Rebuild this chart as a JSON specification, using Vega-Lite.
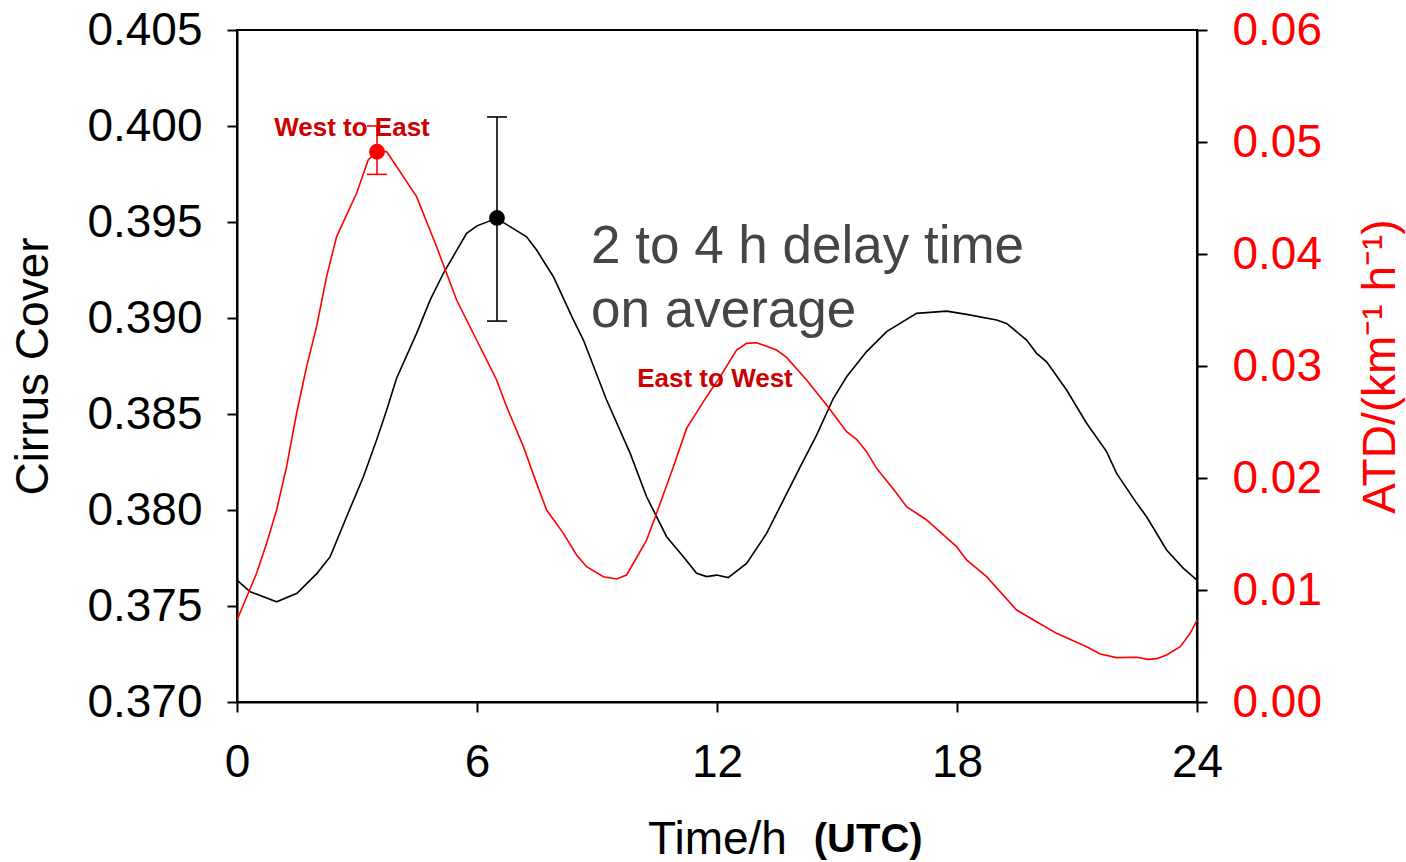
{
  "$schema": "https://vega.github.io/schema/vega-lite/v6.json",
  "width": 960,
  "height": 672,
  "autosize": {"type": "none"},
  "padding": {"left": 237, "top": 30, "right": 209, "bottom": 160},
  "background": "white",
  "config": {
    "font": "Liberation Sans",
    "view": {"stroke": "black", "strokeWidth": 2},
    "axis": {
      "grid": false,
      "domainColor": "black",
      "domainWidth": 2,
      "tickColor": "black",
      "tickWidth": 2,
      "tickSize": 10,
      "labelFont": "Liberation Sans",
      "labelFontSize": 46,
      "labelColor": "black",
      "labelFlush": false,
      "labelOverlap": false,
      "titleFont": "Liberation Sans",
      "titleFontSize": 46,
      "titleFontWeight": "normal",
      "titleColor": "black"
    }
  },
  "datasets": {
    "cover": [
      {"t": 0, "v": 0.37635}, {"t": 0.33, "v": 0.37574}, {"t": 0.99, "v": 0.37522}, {"t": 1.5, "v": 0.37566},
      {"t": 2.0, "v": 0.3767}, {"t": 2.33, "v": 0.37757}, {"t": 2.74, "v": 0.37965}, {"t": 3.16, "v": 0.38173},
      {"t": 3.49, "v": 0.38365}, {"t": 3.74, "v": 0.3852}, {"t": 3.99, "v": 0.38686}, {"t": 4.49, "v": 0.3892},
      {"t": 4.83, "v": 0.39094}, {"t": 5.16, "v": 0.39233}, {"t": 5.74, "v": 0.39441}, {"t": 6.0, "v": 0.3948},
      {"t": 6.49, "v": 0.39519}, {"t": 7.24, "v": 0.39423}, {"t": 7.49, "v": 0.39354}, {"t": 7.91, "v": 0.39215},
      {"t": 8.41, "v": 0.3899}, {"t": 8.66, "v": 0.38885}, {"t": 9.24, "v": 0.38573}, {"t": 9.83, "v": 0.38295},
      {"t": 10.24, "v": 0.38069}, {"t": 10.74, "v": 0.37861}, {"t": 11.16, "v": 0.37757}, {"t": 11.49, "v": 0.3767},
      {"t": 11.74, "v": 0.37653}, {"t": 11.99, "v": 0.37661}, {"t": 12.28, "v": 0.37648}, {"t": 12.74, "v": 0.37722},
      {"t": 13.24, "v": 0.37878}, {"t": 13.66, "v": 0.38052}, {"t": 14.08, "v": 0.38225}, {"t": 14.49, "v": 0.3839},
      {"t": 14.91, "v": 0.38582}, {"t": 15.24, "v": 0.38694}, {"t": 15.74, "v": 0.38825}, {"t": 16.24, "v": 0.38929},
      {"t": 16.99, "v": 0.39024}, {"t": 17.74, "v": 0.39036}, {"t": 18.24, "v": 0.39019}, {"t": 18.99, "v": 0.3899},
      {"t": 19.24, "v": 0.38972}, {"t": 19.74, "v": 0.38885}, {"t": 19.99, "v": 0.38816}, {"t": 20.24, "v": 0.38772},
      {"t": 20.74, "v": 0.38625}, {"t": 21.24, "v": 0.38452}, {"t": 21.74, "v": 0.38304}, {"t": 21.99, "v": 0.38191},
      {"t": 22.49, "v": 0.38036}, {"t": 22.74, "v": 0.37965}, {"t": 23.24, "v": 0.37792}, {"t": 23.66, "v": 0.37696},
      {"t": 24.0, "v": 0.37635}
    ],
    "atd": [
      {"t": 0, "v": 0.00732}, {"t": 0.49, "v": 0.01149}, {"t": 0.74, "v": 0.01417}, {"t": 0.99, "v": 0.01714},
      {"t": 1.24, "v": 0.02101}, {"t": 1.49, "v": 0.02578}, {"t": 1.74, "v": 0.02994}, {"t": 1.99, "v": 0.03351},
      {"t": 2.24, "v": 0.03798}, {"t": 2.49, "v": 0.04155}, {"t": 2.99, "v": 0.04542}, {"t": 3.28, "v": 0.04839},
      {"t": 3.49, "v": 0.04914}, {"t": 3.74, "v": 0.04914}, {"t": 4.49, "v": 0.04512}, {"t": 4.99, "v": 0.04065},
      {"t": 5.49, "v": 0.03589}, {"t": 5.99, "v": 0.03232}, {"t": 6.24, "v": 0.03054}, {"t": 6.49, "v": 0.02875},
      {"t": 6.74, "v": 0.02637}, {"t": 7.16, "v": 0.0228}, {"t": 7.49, "v": 0.01952}, {"t": 7.74, "v": 0.01714},
      {"t": 8.16, "v": 0.01506}, {"t": 8.49, "v": 0.01313}, {"t": 8.74, "v": 0.01208}, {"t": 9.16, "v": 0.01119},
      {"t": 9.49, "v": 0.01098}, {"t": 9.74, "v": 0.01134}, {"t": 10.24, "v": 0.01446}, {"t": 10.49, "v": 0.01685},
      {"t": 10.91, "v": 0.02101}, {"t": 11.24, "v": 0.02443}, {"t": 11.74, "v": 0.02726}, {"t": 12.08, "v": 0.02905},
      {"t": 12.49, "v": 0.03143}, {"t": 12.74, "v": 0.03202}, {"t": 12.99, "v": 0.03208}, {"t": 13.49, "v": 0.03143},
      {"t": 13.74, "v": 0.03077}, {"t": 14.24, "v": 0.02875}, {"t": 14.74, "v": 0.02652}, {"t": 15.24, "v": 0.02414},
      {"t": 15.49, "v": 0.02345}, {"t": 15.74, "v": 0.02235}, {"t": 15.99, "v": 0.02086}, {"t": 16.49, "v": 0.01863},
      {"t": 16.74, "v": 0.01744}, {"t": 17.24, "v": 0.01625}, {"t": 17.99, "v": 0.01387}, {"t": 18.24, "v": 0.01268},
      {"t": 18.74, "v": 0.01119}, {"t": 19.49, "v": 0.00821}, {"t": 19.99, "v": 0.00717}, {"t": 20.49, "v": 0.00613},
      {"t": 21.24, "v": 0.00494}, {"t": 21.58, "v": 0.00429}, {"t": 21.99, "v": 0.00396}, {"t": 22.49, "v": 0.00399},
      {"t": 22.78, "v": 0.00381}, {"t": 22.99, "v": 0.00387}, {"t": 23.24, "v": 0.0042}, {"t": 23.58, "v": 0.00494},
      {"t": 23.83, "v": 0.00613}, {"t": 24.0, "v": 0.00732}
    ],
    "coverErr": [{"t": 6.5, "v": 0.39521, "lo": 0.38984, "hi": 0.40047}],
    "coverCaps": [{"t": 6.5, "v": 0.38984}, {"t": 6.5, "v": 0.40047}],
    "atdErr": [{"t": 3.5, "v": 0.04913, "lo": 0.04711, "hi": 0.05143}],
    "atdCaps": [{"t": 3.5, "v": 0.04711}, {"t": 3.5, "v": 0.05143}],
    "coverText": [
      {"t": 8.85, "v": 0.39286, "label": "2 to 4 h delay time"},
      {"t": 8.85, "v": 0.38955, "label": "on average"}
    ],
    "utcText": [{"t": 15.78, "v": 0.3622, "label": "(UTC)"}],
    "atdText": [
      {"t": 2.875, "v": 0.0505, "label": "West to East"},
      {"t": 11.95, "v": 0.0281, "label": "East to West"}
    ]
  },
  "encoding": {
    "x": {
      "field": "t",
      "type": "quantitative",
      "scale": {"domain": [0, 24], "nice": false, "zero": false},
      "axis": {"values": [0, 6, 12, 18, 24], "labelPadding": 28, "title": "Time/h", "titlePadding": 32}
    }
  },
  "layer": [
    {
      "encoding": {
        "y": {
          "field": "v",
          "type": "quantitative",
          "scale": {"domain": [0.37, 0.405], "nice": false, "zero": false},
          "axis": {
            "orient": "left",
            "values": [0.37, 0.375, 0.38, 0.385, 0.39, 0.395, 0.4, 0.405],
            "format": ".3f",
            "labelPadding": 25,
            "title": "Cirrus Cover",
            "titlePadding": 29
          }
        }
      },
      "layer": [
        {
          "data": {"name": "cover"},
          "mark": {"type": "line", "color": "black", "strokeWidth": 1.6}
        },
        {
          "data": {"name": "coverErr"},
          "mark": {"type": "rule", "color": "black", "strokeWidth": 1.6},
          "encoding": {
            "y": {
              "field": "lo",
              "type": "quantitative",
              "axis": {
                "orient": "left",
                "values": [0.37, 0.375, 0.38, 0.385, 0.39, 0.395, 0.4, 0.405],
                "format": ".3f",
                "labelPadding": 25,
                "title": "Cirrus Cover",
                "titlePadding": 29
              }
            },
            "y2": {"field": "hi"}
          }
        },
        {
          "data": {"name": "coverCaps"},
          "mark": {"type": "tick", "orient": "horizontal", "color": "black", "size": 20, "thickness": 1.6, "opacity": 1}
        },
        {
          "data": {"name": "coverErr"},
          "mark": {"type": "circle", "color": "black", "size": 250, "opacity": 1}
        },
        {
          "data": {"name": "coverText"},
          "mark": {"type": "text", "align": "left", "baseline": "alphabetic", "fontSize": 53, "color": "#454545", "font": "Liberation Sans"},
          "encoding": {"text": {"field": "label"}}
        },
        {
          "data": {"name": "utcText"},
          "mark": {"type": "text", "align": "center", "baseline": "alphabetic", "fontSize": 40, "fontWeight": "bold", "color": "black", "font": "Liberation Sans"},
          "encoding": {"text": {"field": "label"}}
        }
      ]
    },
    {
      "encoding": {
        "y": {
          "field": "v",
          "type": "quantitative",
          "scale": {"domain": [0, 0.06], "nice": false, "zero": false},
          "axis": {
            "orient": "right",
            "values": [0, 0.01, 0.02, 0.03, 0.04, 0.05, 0.06],
            "format": ".2f",
            "labelPadding": 25,
            "labelColor": "#ff0000",
            "title": "ATD/(km⁻¹ h⁻¹)",
            "titleColor": "#ff0000",
            "titleAngle": 270,
            "titleBaseline": "top",
            "titlePadding": 37
          }
        }
      },
      "layer": [
        {
          "data": {"name": "atd"},
          "mark": {"type": "line", "color": "#ff0000", "strokeWidth": 1.6}
        },
        {
          "data": {"name": "atdErr"},
          "mark": {"type": "rule", "color": "#ff0000", "strokeWidth": 1.6},
          "encoding": {
            "y": {
              "field": "lo",
              "type": "quantitative",
              "axis": {
                "orient": "right",
                "values": [0, 0.01, 0.02, 0.03, 0.04, 0.05, 0.06],
                "format": ".2f",
                "labelPadding": 25,
                "labelColor": "#ff0000",
                "title": "ATD/(km⁻¹ h⁻¹)",
                "titleColor": "#ff0000",
                "titleAngle": 270,
                "titleBaseline": "top",
                "titlePadding": 37
              }
            },
            "y2": {"field": "hi"}
          }
        },
        {
          "data": {"name": "atdCaps"},
          "mark": {"type": "tick", "orient": "horizontal", "color": "#ff0000", "size": 20, "thickness": 1.6, "opacity": 1}
        },
        {
          "data": {"name": "atdErr"},
          "mark": {"type": "circle", "color": "#ff0000", "size": 250, "opacity": 1}
        },
        {
          "data": {"name": "atdText"},
          "mark": {"type": "text", "align": "center", "baseline": "alphabetic", "fontSize": 26, "fontWeight": "bold", "color": "#cc0000", "font": "Liberation Sans"},
          "encoding": {"text": {"field": "label"}}
        }
      ]
    }
  ],
  "resolve": {"scale": {"y": "independent"}}
}
